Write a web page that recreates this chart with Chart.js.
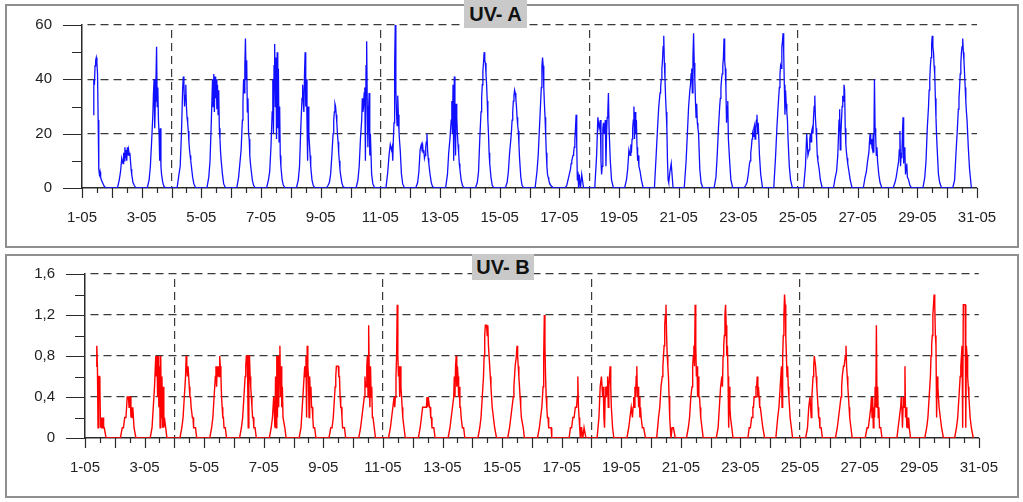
<!DOCTYPE html>
<html>
<head>
<meta charset="utf-8">
<script src="https://cdn.jsdelivr.net/npm/chart.js@4.4.1/dist/chart.umd.min.js"></script>
<style>
  html, body { margin: 0; padding: 0; background: #fff; }
  body { width: 1023px; height: 502px; position: relative; overflow: hidden; font-family: Arial, "Liberation Sans", sans-serif; }
  .frame { position: absolute; left: 5px; width: 1014px; height: 244px; box-sizing: border-box; border: 2px solid #8f8f8f; }
  .plot { position: absolute; left: 5px; width: 1014px; height: 244px; }
  .title { position: absolute; background: #c9c9c9; color: #111; font-weight: bold; font-size: 20px; text-align: center; }
</style>
</head>
<body>
<div class="frame" style="top:4px"></div>
<div class="frame" style="top:254px"></div>
<div class="plot" style="top:4px"><canvas id="chartA"></canvas></div>
<div class="plot" style="top:254px"><canvas id="chartB"></canvas></div>
<div class="title" style="left:464px; top:0; width:63px; height:28px; line-height:28px">UV- A</div>
<div class="title" style="left:472px; top:254px; width:62px; height:26px; line-height:26px">UV- B</div>

<script>
// hours of the day at which each daily row is sampled
const HOURS = [4.5, 6, 7, 8, 9, 9.5, 10, 10.5, 11, 11.5, 12, 12.5, 13, 13.5, 14, 14.5, 15, 15.5, 16, 17, 18, 19.5];

// x axis labels, one per day (0 = 1-05 00:00 ... 30 = 31-05 00:00)
const xLabels = ['1-05', '', '3-05', '', '5-05', '', '7-05', '', '9-05', '', '11-05', '', '13-05', '', '15-05', '',
                 '17-05', '', '19-05', '', '21-05', '', '23-05', '', '25-05', '', '27-05', '', '29-05', '', '31-05'];
const weekLines = [3, 10, 17, 24];

const uvaTicks = [0, 20, 40, 60];
const uvbTicks = [0, 0.4, 0.8, 1.2, 1.6];
const uvbTickLabels = ['0', '0,4', '0,8', '1,2', '1,6'];

// UV-A, one row per day (1-05 .. 30-05), values at HOURS
const uvA = [
  [null, null, null, null, 27, 40, 38, 45, 47, 48, 46, 42, 25, 7, 5, 6, 4, 3, 3, 1.5, 0.5, 0],
  [0, 3, 6, 11, 9, 13, 10, 15, 11, 14, 10, 15, 12, 14, 12, 13, 10, 7, 5, 2, 1, 0],
  [0, 3, 8, 17, 27, 35, 40, 22, 32, 40, 52, 30, 37, 25, 20, 10, 22, 8, 5, 2, 0.5, 0],
  [0, 5, 8, 20, 37, 41, 38, 30, 34, 38, 30, 26, 24, 21, 17, 14, 12, 10, 8, 4, 1.5, 0],
  [0, 4, 10, 24, 40, 30, 42, 28, 41, 33, 40, 29, 38, 27, 36, 22, 18, 13, 10, 5, 1.5, 0],
  [0, 4, 9, 14, 25, 32, 40, 35, 45, 55, 40, 47, 28, 33, 20, 18, 12, 9, 7, 3, 1, 0],
  [0, 3, 6, 15, 28, 40, 20, 45, 53, 30, 48, 18, 50, 22, 44, 17, 30, 12, 8, 3, 1, 0],
  [0, 3, 8, 22, 33, 38, 32, 28, 42, 50, 30, 40, 25, 10, 30, 20, 16, 12, 8, 3, 1, 0],
  [0, 1, 2, 5, 12, 16, 20, 25, 28, 31, 30, 27, 24, 20, 17, 13, 10, 7, 5, 2, 0.5, 0],
  [0, 3, 8, 18, 25, 33, 28, 30, 35, 37, 10, 45, 54, 30, 15, 28, 35, 12, 20, 5, 1.5, 0],
  [0, 6, 12, 16, 14, 15, 10, 18, 24, 45, 60, 36, 28, 23, 34, 27, 21, 17, 14, 5, 1.5, 0],
  [0, 2, 6, 14, 16, 15, 16, 13, 14, 11, 12, 15, 17, 20, 14, 11, 9, 7, 5, 2, 0.5, 0],
  [0, 5, 13, 18, 25, 32, 20, 38, 10, 41, 25, 12, 31, 26, 20, 16, 13, 9, 7, 3, 1, 0],
  [0, 2, 6, 18, 28, 33, 38, 43, 46, 50, 47, 46, 42, 38, 32, 25, 20, 13, 9, 4, 1, 0],
  [0, 2, 6, 13, 18, 21, 25, 28, 32, 34, 36, 35, 33, 30, 26, 23, 21, 16, 11, 4, 1, 0],
  [0, 6, 12, 22, 32, 37, 45, 48, 45, 37, 31, 26, 20, 13, 8, 5, 4, 3, 2, 1, 0.5, 0],
  [0, 1, 3, 5, 7, 9, 10, 11, 12, 13, 15, 18, 22, 27, 16, 3, 6, 0, 5, 0, 5, 0],
  [0, 12, 26, 22, 25, 10, 5, 8, 22, 24, 20, 23, 25, 8, 20, 26, 28, 35, 22, 10, 3, 0],
  [0, 3, 7, 14, 12, 16, 13, 18, 22, 25, 30, 18, 28, 20, 25, 15, 10, 12, 8, 6, 3, 0],
  [0, 13, 22, 30, 35, 37, 40, 44, 47, 52, 56, 46, 40, 33, 28, 22, 10, 3, 2, 6, 9, 0],
  [0, 10, 20, 30, 36, 38, 42, 44, 35, 48, 57, 46, 40, 32, 26, 31, 24, 22, 20, 7, 2, 0],
  [0, 4, 12, 22, 30, 33, 37, 40, 42, 45, 48, 55, 47, 44, 37, 24, 30, 32, 18, 10, 3, 0],
  [0, 1, 2, 5, 9, 10, 13, 15, 18, 20, 19, 22, 23, 18, 22, 25, 27, 20, 24, 12, 5, 0],
  [0, 12, 22, 30, 37, 42, 45, 44, 52, 54, 57, 50, 38, 27, 36, 31, 28, 25, 18, 8, 3, 0],
  [0, 8, 20, 12, 14, 18, 20, 17, 21, 22, 20, 26, 30, 34, 26, 22, 18, 12, 10, 7, 3, 0],
  [0, 4, 6, 12, 25, 29, 14, 20, 25, 30, 34, 32, 38, 36, 22, 16, 13, 11, 9, 6, 3, 0],
  [0, 4, 6, 10, 13, 17, 20, 16, 18, 15, 14, 20, 13, 40, 22, 19, 12, 15, 10, 5, 2, 0],
  [0, 2, 4, 7, 10, 14, 21, 8, 13, 11, 20, 26, 9, 15, 13, 5, 8, 9, 4, 3, 1, 0],
  [0, 4, 10, 22, 30, 36, 40, 45, 48, 53, 56, 52, 50, 45, 42, 33, 26, 19, 14, 5, 2, 0],
  [0, 3, 12, 20, 29, 33, 37, 42, 46, 50, 52, 55, 50, 47, 42, 37, 32, 28, 25, 15, 7, 0]
];

// UV-B, same layout
const uvB = [
  [null, null, null, null, 0.7, 0.9, 0.7, 0.1, 0.6, 0.6, 0.5, 0.1, 0.2, 0.1, 0.1, 0.2, 0.1, 0.1, 0.1, 0, 0, 0],
  [0, 0.1, 0.1, 0.2, 0.2, 0.3, 0.4, 0.4, 0.4, 0.3, 0.4, 0.4, 0.2, 0.3, 0.2, 0.3, 0.2, 0.1, 0.1, 0, 0, 0],
  [0, 0.1, 0.3, 0.5, 0.8, 0.6, 0.8, 0.4, 0.8, 0.3, 0.7, 0.1, 0.8, 0.2, 0.6, 0.1, 0.5, 0.1, 0.2, 0.1, 0, 0],
  [0, 0.1, 0.2, 0.4, 0.6, 0.8, 0.7, 0.6, 0.7, 0.7, 0.5, 0.4, 0.4, 0.3, 0.3, 0.2, 0.2, 0.1, 0.1, 0.1, 0, 0],
  [0, 0.1, 0.2, 0.4, 0.6, 0.7, 0.5, 0.7, 0.6, 0.7, 0.6, 0.8, 0.7, 0.6, 0.4, 0.3, 0.2, 0.2, 0.1, 0.1, 0, 0],
  [0, 0.1, 0.2, 0.4, 0.6, 0.7, 0.8, 0.8, 0.6, 0.1, 0.8, 0.8, 0.6, 0.5, 0.4, 0.3, 0.2, 0.2, 0.1, 0.1, 0, 0],
  [0, 0.1, 0.2, 0.4, 0.1, 0.6, 0.1, 0.8, 0.2, 0.8, 0.3, 0.8, 0.9, 0.4, 0.7, 0.3, 0.5, 0.2, 0.2, 0.1, 0, 0],
  [0, 0.1, 0.3, 0.5, 0.7, 0.6, 0.8, 0.2, 0.9, 0.7, 0.6, 0.2, 0.6, 0.4, 0.5, 0.3, 0.3, 0.2, 0.1, 0.1, 0, 0],
  [0, 0.1, 0.1, 0.2, 0.4, 0.5, 0.6, 0.7, 0.7, 0.7, 0.7, 0.6, 0.6, 0.4, 0.3, 0.3, 0.2, 0.1, 0.1, 0.1, 0, 0],
  [0, 0.1, 0.2, 0.3, 0.4, 0.6, 0.5, 0.5, 0.7, 0.8, 0.4, 1.1, 0.6, 0.3, 0.7, 0.4, 0.5, 0.2, 0.2, 0.1, 0, 0],
  [0, 0.1, 0.2, 0.3, 0.4, 0.3, 0.4, 0.6, 0.8, 1.3, 0.8, 0.6, 0.7, 0.4, 0.7, 0.5, 0.4, 0.3, 0.2, 0.1, 0, 0],
  [0, 0.1, 0.2, 0.3, 0.3, 0.3, 0.3, 0.3, 0.3, 0.4, 0.3, 0.4, 0.4, 0.3, 0.3, 0.2, 0.2, 0.1, 0.1, 0.1, 0, 0],
  [0, 0.1, 0.2, 0.3, 0.4, 0.6, 0.4, 0.7, 0.8, 0.5, 0.7, 0.6, 0.4, 0.5, 0.3, 0.3, 0.2, 0.2, 0.1, 0.1, 0, 0],
  [0, 0.1, 0.2, 0.4, 0.6, 0.8, 1.0, 1.1, 1.1, 1.1, 1.0, 1.1, 0.9, 0.8, 0.8, 0.6, 0.5, 0.4, 0.3, 0.2, 0.1, 0],
  [0, 0.1, 0.2, 0.3, 0.4, 0.5, 0.6, 0.7, 0.7, 0.8, 0.9, 0.8, 0.7, 0.6, 0.5, 0.4, 0.3, 0.2, 0.2, 0.1, 0, 0],
  [0, 0.1, 0.2, 0.3, 0.5, 0.8, 1.2, 0.9, 0.6, 0.4, 0.3, 0.2, 0.2, 0.1, 0.1, 0.1, 0.1, 0.1, 0, 0, 0, 0],
  [0, 0, 0.1, 0.1, 0.2, 0.2, 0.2, 0.2, 0.3, 0.3, 0.3, 0.4, 0.6, 0.3, 0.2, 0.1, 0, 0.1, 0.1, 0, 0.1, 0],
  [0, 0.2, 0.5, 0.6, 0.4, 0.5, 0.2, 0.1, 0.4, 0.5, 0.4, 0.5, 0.6, 0.3, 0.5, 0.6, 0.7, 0.5, 0.3, 0.1, 0, 0],
  [0, 0.1, 0.2, 0.3, 0.2, 0.3, 0.4, 0.3, 0.5, 0.4, 0.6, 0.7, 0.4, 0.5, 0.3, 0.4, 0.2, 0.3, 0.2, 0.1, 0.1, 0],
  [0, 0.2, 0.3, 0.5, 0.6, 0.7, 0.8, 0.9, 1.1, 1.2, 1.3, 1.0, 0.8, 0.7, 0.6, 0.4, 0.2, 0.1, 0, 0.1, 0.1, 0],
  [0, 0.1, 0.2, 0.4, 0.5, 0.7, 0.8, 0.9, 0.7, 1.3, 0.9, 0.6, 0.7, 0.4, 0.6, 0.4, 0.4, 0.3, 0.2, 0.1, 0, 0],
  [0, 0.1, 0.3, 0.5, 0.6, 0.5, 0.8, 0.9, 1.0, 1.2, 1.3, 1.1, 0.8, 0.9, 0.6, 0.1, 0.5, 0.3, 0.2, 0.1, 0, 0],
  [0, 0, 0.1, 0.1, 0.2, 0.2, 0.3, 0.3, 0.4, 0.4, 0.4, 0.5, 0.5, 0.6, 0.4, 0.5, 0.4, 0.3, 0.3, 0.2, 0.1, 0],
  [0, 0.2, 0.3, 0.5, 0.7, 0.3, 0.8, 1.0, 1.2, 1.4, 1.3, 1.0, 0.8, 0.6, 0.7, 0.5, 0.4, 0.3, 0.2, 0.1, 0, 0],
  [0, 0.1, 0.3, 0.4, 0.2, 0.4, 0.5, 0.6, 0.7, 0.8, 0.8, 0.7, 0.6, 0.5, 0.4, 0.3, 0.2, 0.2, 0.1, 0.1, 0, 0],
  [0, 0.1, 0.2, 0.3, 0.4, 0.5, 0.6, 0.6, 0.7, 0.7, 0.7, 0.8, 0.9, 0.7, 0.6, 0.5, 0.4, 0.3, 0.2, 0.1, 0, 0],
  [0, 0.1, 0.1, 0.2, 0.3, 0.4, 0.2, 0.4, 0.1, 0.3, 0.2, 0.5, 0.3, 1.1, 0.3, 0.5, 0.2, 0.3, 0.1, 0.1, 0, 0],
  [0, 0, 0.1, 0.2, 0.3, 0.4, 0.3, 0.1, 0.3, 0.4, 0.3, 0.7, 0.2, 0.3, 0.1, 0.2, 0.1, 0.2, 0.1, 0, 0, 0],
  [0, 0.1, 0.2, 0.4, 0.6, 0.8, 0.9, 1.0, 1.2, 1.3, 1.4, 1.3, 1.0, 0.9, 0.2, 0.6, 0.5, 0.4, 0.3, 0.2, 0.1, 0],
  [0, 0.1, 0.2, 0.4, 0.6, 0.7, 0.8, 0.9, 0.1, 1.3, 1.3, 1.3, 1.3, 0.1, 0.9, 0.8, 0.6, 0.5, 0.4, 0.2, 0.1, 0]
];

// rows -> {x: day + hour/24, y}
function toPoints(rows) {
  const pts = [];
  rows.forEach((row, d) => {
    row.forEach((v, i) => pts.push({ x: d + HOURS[i] / 24, y: v }));
  });
  return pts;
}

const FONT = { family: 'Arial, "Liberation Sans", sans-serif', size: 15 };

// tick marks outside the axes (long on labelled values, short in between)
const tickMarks = {
  id: 'tickMarks',
  afterDraw(chart, args, opts) {
    const { ctx, scales: { x, y } } = chart;
    ctx.save();
    ctx.strokeStyle = '#2a2a2a';
    ctx.lineWidth = 1.2;
    ctx.beginPath();
    const n = Math.round((y.max - y.min) / opts.yMinor);
    for (let k = 0; k <= n; k++) {
      const py = Math.round(y.getPixelForValue(y.min + k * opts.yMinor)) + 0.5;
      const len = k % 2 === 0 ? 19 : 10;
      ctx.moveTo(x.left - len, py);
      ctx.lineTo(x.left, py);
    }
    for (let k = 0; k <= (x.max - x.min) * 2; k++) {
      const px = Math.round(x.getPixelForValue(x.min + k / 2)) + 0.5;
      const len = k % 2 === 0 ? 10 : 5;
      ctx.moveTo(px, y.bottom);
      ctx.lineTo(px, y.bottom + len);
    }
    ctx.stroke();
    ctx.restore();
  }
};

function makePanel(id, cfg) {
  return new Chart(document.getElementById(id), {
    type: 'line',
    data: {
      datasets: [{
        data: toPoints(cfg.rows),
        borderColor: cfg.color,
        borderWidth: cfg.lineWidth,
        pointRadius: 0,
        tension: 0,
        spanGaps: false
      }]
    },
    options: {
      responsive: true,
      maintainAspectRatio: false,
      animation: false,
      events: [],
      layout: { padding: { left: 0, right: cfg.padRight, top: cfg.padTop, bottom: 0 } },
      plugins: {
        legend: { display: false },
        tooltip: { enabled: false },
        tickMarks: { yMinor: cfg.yMinor }
      },
      scales: {
        x: {
          type: 'linear',
          min: 0,
          max: 30,
          afterBuildTicks: s => { s.ticks = xLabels.map((_, i) => ({ value: i })); },
          afterFit: s => { s.height = 60; },
          ticks: {
            autoSkip: false,
            maxRotation: 0,
            padding: 21,
            color: '#222',
            font: FONT,
            callback: v => xLabels[Math.round(v)]
          },
          grid: {
            drawTicks: false,
            lineWidth: 1.2,
            color: c => (c.tick && weekLines.includes(c.tick.value)) ? '#3a3a3a' : 'rgba(0,0,0,0)'
          },
          border: { display: true, color: '#2a2a2a', width: 1.5, dash: [8, 5], dashOffset: 8 }
        },
        y: {
          min: 0,
          max: cfg.yMax,
          afterBuildTicks: s => { s.ticks = cfg.yTicks.map(v => ({ value: v })); },
          // keep the label gap from pushing the plot down
          afterFit: s => { s.width = cfg.yWidth; s.paddingTop = 9; s.paddingBottom = 9; },
          ticks: {
            padding: 30,
            color: '#222',
            font: FONT,
            callback: (v, i) => cfg.yLabels[i]
          },
          grid: {
            drawTicks: false,
            lineWidth: 1.2,
            color: c => (c.tick && c.tick.value > 0) ? '#3a3a3a' : 'rgba(0,0,0,0)'
          },
          border: { display: true, color: '#2a2a2a', width: 1.5, dash: [8, 5], dashOffset: 8 }
        }
      }
    },
    plugins: [tickMarks]
  });
}

makePanel('chartA', {
  rows: uvA,
  color: '#1010ff',
  lineWidth: 1.3,
  yMax: 60,
  yTicks: uvaTicks,
  yLabels: uvaTicks.map(String),
  yMinor: 10,
  yWidth: 77,
  padTop: 21,
  padRight: 42
});

makePanel('chartB', {
  rows: uvB,
  color: '#ff0000',
  lineWidth: 1.4,
  yMax: 1.6,
  yTicks: uvbTicks,
  yLabels: uvbTickLabels,
  yMinor: 0.2,
  yWidth: 80,
  padTop: 20,
  padRight: 39
});
</script>
</body>
</html>
